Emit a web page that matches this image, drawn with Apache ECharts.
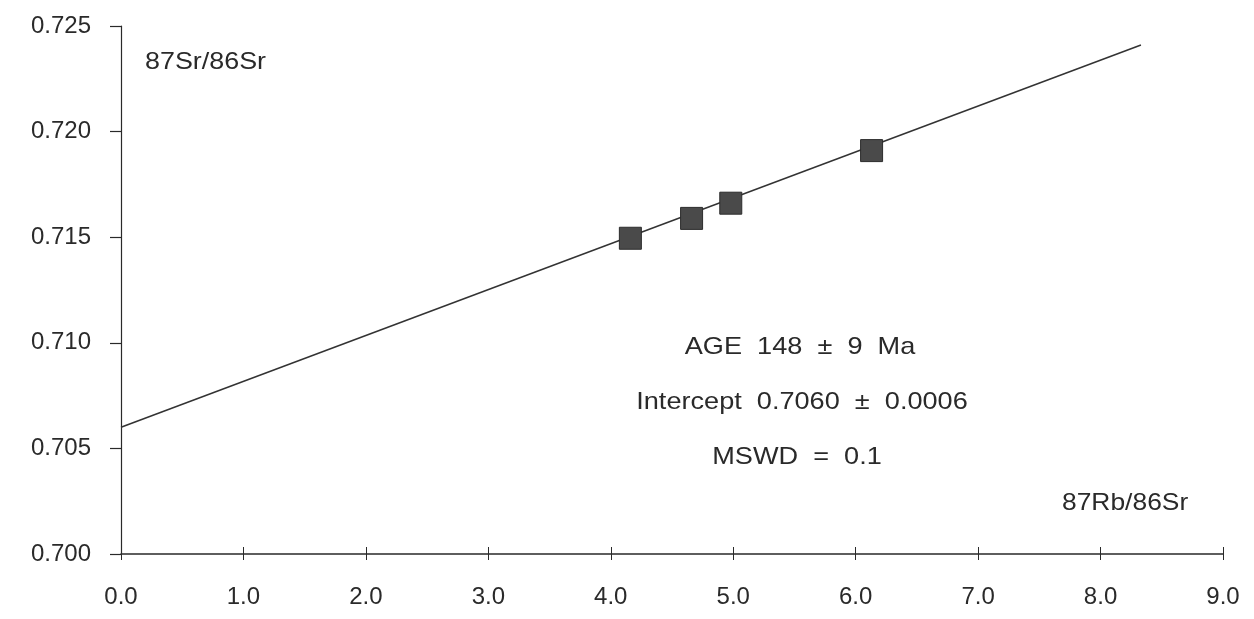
<!DOCTYPE html>
<html>
<head>
<meta charset="utf-8">
<script src="https://cdn.jsdelivr.net/npm/echarts@6/dist/echarts.min.js"></script>
<style>
html,body{margin:0;padding:0;background:#fff;}
#c{width:1254px;height:619px;}
</style>
</head>
<body>
<div id="c"></div>
<script>
// Data
const rbSr = [4.16, 4.66, 4.98, 6.13];          // 87Rb/86Sr
const srSr = [0.71495, 0.71589, 0.71661, 0.7191]; // 87Sr/86Sr
const fitX = [0.0, 8.33];
const fitY = [0.7060, 0.7241];
const yTicks = ['0.700','0.705','0.710','0.715','0.720','0.725'];
const xTicks = ['0.0','1.0','2.0','3.0','4.0','5.0','6.0','7.0','8.0','9.0'];
const yLabel = '87Sr/86Sr';
const xLabel = '87Rb/86Sr';
const notes = ['AGE  148  \u00b1  9  Ma', 'Intercept  0.7060  \u00b1  0.0006', 'MSWD  =  0.1'];

const font = '"Liberation Sans", Arial, sans-serif';
const ink = '#2a2a2a';

const chart = echarts.init(document.getElementById('c'));
const pts = rbSr.map((x, i) => [x, srSr[i]]);
const fit = fitX.map((x, i) => [x, fitY[i]]);

function note(text, x, y) {
  return { type: 'text', x: x, y: y, scaleX: 1.13,
    style: { text: text, font: '24px ' + font, fill: ink, align: 'center', verticalAlign: 'middle' } };
}

chart.setOption({
  animation: false,
  backgroundColor: '#fff',
  grid: { left: 121, right: 31, top: 26, bottom: 65 },
  xAxis: [{
    type: 'value', min: 0, max: 9, interval: 1,
    axisLine: { show: true, onZero: false, lineStyle: { color: ink, width: 1.5 } },
    axisTick: { show: true, inside: true, length: 7, lineStyle: { color: ink, width: 1 } },
    axisLabel: { margin: 31, fontFamily: font, fontSize: 24, color: ink,
      formatter: v => xTicks[Math.round(v)] },
    splitLine: { show: false }
  }, {
    type: 'value', min: 0, max: 9, interval: 1, position: 'bottom',
    axisLine: { show: true, onZero: false, lineStyle: { color: 'rgba(0,0,0,0)', width: 1 } },
    axisTick: { show: true, inside: false, length: 6, lineStyle: { color: ink, width: 1 } },
    axisLabel: { show: false },
    splitLine: { show: false }
  }],
  yAxis: {
    type: 'value', min: 0.700, max: 0.725, interval: 0.005,
    axisLine: { show: true, onZero: false, lineStyle: { color: ink, width: 1.2 } },
    axisTick: { show: true, length: 11, lineStyle: { color: ink, width: 1.2 } },
    axisLabel: { margin: 30, fontFamily: font, fontSize: 24, color: ink,
      formatter: v => yTicks[Math.round((v - 0.700) / 0.005)] },
    splitLine: { show: false }
  },
  series: [{
    type: 'line', data: fit, symbol: 'none', silent: true,
    lineStyle: { color: '#333', width: 1.5 }, z: 2
  }, {
    type: 'scatter', data: pts, symbol: 'rect', symbolSize: 22,
    itemStyle: { color: '#4a4a4a', borderColor: '#2c2c2c', borderWidth: 1, opacity: 1 }, z: 3
  }],
  graphic: [
    { type: 'text', x: 145, y: 62, scaleX: 1.12,
      style: { text: yLabel, font: '24px ' + font, fill: ink, verticalAlign: 'middle' } },
    { type: 'text', x: 1062, y: 503, scaleX: 1.1,
      style: { text: xLabel, font: '24px ' + font, fill: ink, verticalAlign: 'middle' } },
    note(notes[0], 800, 347),
    note(notes[1], 802, 402),
    note(notes[2], 797, 457)
  ]
});
</script>
</body>
</html>
